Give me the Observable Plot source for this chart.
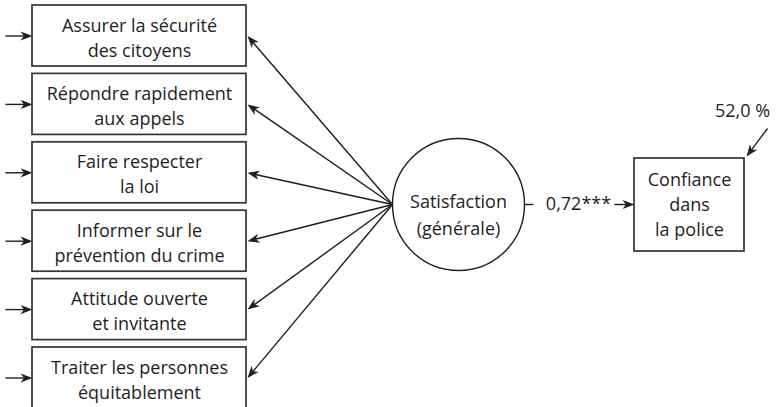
<!DOCTYPE html>
<html>
<head>
<meta charset="utf-8">
<script src="https://cdn.jsdelivr.net/npm/d3@7"></script>
<script src="https://cdn.jsdelivr.net/npm/@observablehq/plot@0.6"></script>
<style>
  html, body { margin: 0; padding: 0; background: #fff; }
  #chart svg { display: block; }
</style>
</head>
<body>
<div id="chart"></div>
<script>
// ---- Data ----
const indicators = [
  "Assurer la sécurité\ndes citoyens",
  "Répondre rapidement\naux appels",
  "Faire respecter\nla loi",
  "Informer sur le\nprévention du crime",
  "Attitude ouverte\net invitante",
  "Traiter les personnes\néquitablement"
];
const latentLabel = "Satisfaction\n(générale)";
const outcomeLabel = "Confiance\ndans\nla police";
const pathCoefficient = ["0,72***"];
const explainedVariance = ["52,0 %"];

// ---- Layout (diagram geometry in pixel space) ----
const W = 779, H = 407;
const boxX1 = 32, boxX2 = 246, boxH = 61, boxTop0 = 5, boxStep = 68.4;
const circ = {cx: 458, cy: 204, r: 66};
const out = {x1: 634, x2: 744, y1: 158, y2: 251};
const ink = "#1e1e1e";
const font = "'Open Sans'";
const fs = 18;

const boxes = indicators.map((label, i) => {
  const y1 = boxTop0 + i * boxStep;
  return {label, x1: boxX1, x2: boxX2, y1, y2: y1 + boxH, ym: y1 + boxH / 2};
});

// arrow segments
const segs = [];
boxes.forEach(b => segs.push({x1: 5, y1: b.ym, x2: boxX1, y2: b.ym, head: true}));
boxes.forEach(b => segs.push({x1: circ.cx - circ.r, y1: circ.cy, x2: boxX2 + 1, y2: b.ym, head: true}));
segs.push({x1: circ.cx + circ.r, y1: circ.cy, x2: circ.cx + circ.r + 9, y2: circ.cy, head: false});
segs.push({x1: 614, y1: circ.cy, x2: out.x1, y2: circ.cy, head: true});
segs.push({x1: 767, y1: 128, x2: out.x2 + 2, y2: out.y1 - 2, head: true});

const heads = segs.filter(s => s.head).map(s => ({
  x: s.x2, y: s.y2,
  angle: Math.atan2(s.y2 - s.y1, s.x2 - s.x1) * 180 / Math.PI
}));

// filled barbed arrowhead, tip at origin pointing to +x
const arrowHead = {
  draw(context) {
    context.moveTo(0, 0);
    context.lineTo(-12, -4.6);
    context.lineTo(-8.5, 0);
    context.lineTo(-12, 4.6);
    context.closePath();
  }
};

const chart = Plot.plot({
  width: W,
  height: H,
  margin: 0,
  x: {domain: [0, W], range: [0, W], axis: null},
  y: {domain: [0, H], range: [0, H], axis: null},
  style: {background: "#fff", fontFamily: font},
  marks: [
    Plot.link(segs, {
      x1: d => d.x1, y1: d => d.y1,
      x2: d => d.head ? d.x2 - 8 * Math.cos(Math.atan2(d.y2 - d.y1, d.x2 - d.x1)) : d.x2,
      y2: d => d.head ? d.y2 - 8 * Math.sin(Math.atan2(d.y2 - d.y1, d.x2 - d.x1)) : d.y2,
      stroke: ink, strokeWidth: 1.4
    }),
    Plot.dot(heads, {x: "x", y: "y", rotate: "angle", symbol: arrowHead, fill: ink, stroke: "none", r: 4}),
    Plot.rect(boxes, {x1: "x1", x2: "x2", y1: "y1", y2: "y2", fill: "white", stroke: "#333", strokeWidth: 1.7}),
    Plot.text(boxes, {x: d => (d.x1 + d.x2) / 2, y: "ym", text: "label", fontSize: fs, lineHeight: 1.39, fill: ink, lineAnchor: "middle"}),
    Plot.dot([circ], {x: "cx", y: "cy", r: circ.r, fill: "white", stroke: ink, strokeWidth: 1.4}),
    Plot.text([latentLabel], {x: circ.cx, y: circ.cy + 8, text: d => d, fontSize: fs, lineHeight: 1.5, fill: ink, lineAnchor: "middle"}),
    Plot.rect([out], {x1: "x1", x2: "x2", y1: "y1", y2: "y2", fill: "white", stroke: "#333", strokeWidth: 1.7}),
    Plot.text([outcomeLabel], {x: (out.x1 + out.x2) / 2, y: (out.y1 + out.y2) / 2 - 2, text: d => d, fontSize: fs, lineHeight: 1.39, fill: ink, lineAnchor: "middle"}),
    Plot.text(pathCoefficient, {x: 578, y: circ.cy, text: d => d, fontSize: fs, fill: ink, lineAnchor: "middle"}),
    Plot.text(explainedVariance, {x: 742, y: 111, text: d => d, fontSize: fs, fill: ink, lineAnchor: "middle"})
  ]
});
document.getElementById("chart").append(chart);
</script>
</body>
</html>
